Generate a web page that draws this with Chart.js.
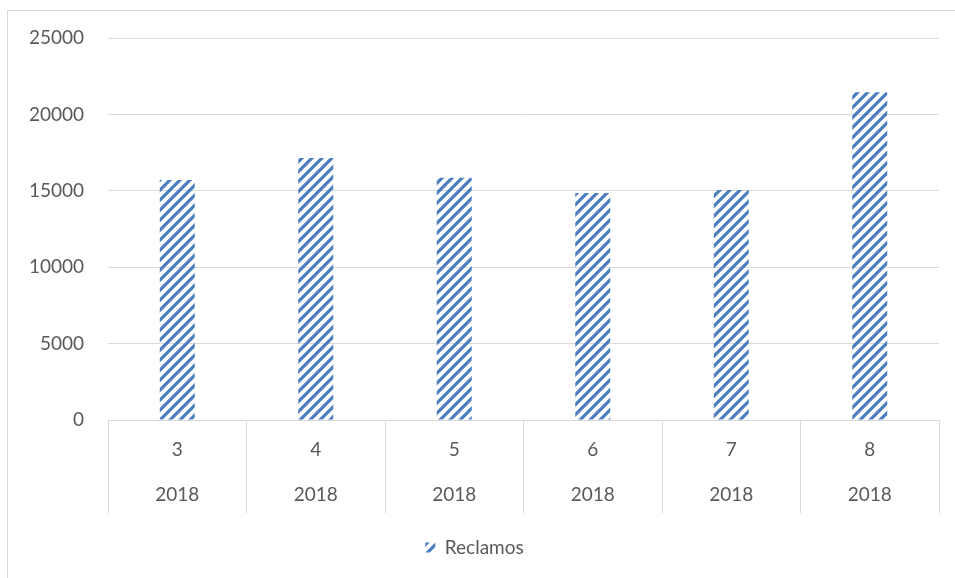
<!DOCTYPE html>
<html>
<head>
<meta charset="utf-8">
<script src="https://cdn.jsdelivr.net/npm/chart.js@4"></script>
<style>
  html, body { margin: 0; padding: 0; background: #fff; }
  #wrap { position: relative; width: 955px; height: 578px; overflow: hidden; }
  #marco { position: absolute; left: 7px; top: 10px; width: 980px; height: 600px; border: 1px solid #d9d9d9; box-sizing: border-box; }
  #grafico { position: absolute; left: 0; top: 0; }
</style>
</head>
<body>
<div id="wrap">
  <div id="marco"></div>
  <canvas id="grafico" width="955" height="578"></canvas>
</div>
<script>
// Datos del gráfico
var meses = ['3', '4', '5', '6', '7', '8'];
var anios = ['2018', '2018', '2018', '2018', '2018', '2018'];
var reclamos = [15700, 17150, 15850, 14850, 15050, 21450];
var etiquetaSerie = 'Reclamos';

// Patrón de rayas diagonales como en Excel
function crearRayas(color) {
    var c = document.createElement('canvas');
    c.width = 10;
    c.height = 10;
    var g = c.getContext('2d');
    g.strokeStyle = color;
    g.lineWidth = 3.2;
    g.lineCap = 'square';
    g.beginPath();
    g.moveTo(0, 10); g.lineTo(10, 0);
    g.moveTo(-5, 5); g.lineTo(5, -5);
    g.moveTo(5, 15); g.lineTo(15, 5);
    g.stroke();
    return g.createPattern(c, 'repeat');
}

var labels = [];
for (var i = 0; i < meses.length; i++) {
    labels.push([meses[i], anios[i]]);
}

var fuente = { family: 'Lato, "Open Sans", sans-serif', size: 19 };
var gris = '#595959';
var linea = '#d9d9d9';

var ctx = document.getElementById('grafico').getContext('2d');
var rayas = crearRayas('#4a7ebf');

new Chart(ctx, {
    type: 'bar',
    data: {
        labels: labels,
        datasets: [{
            label: etiquetaSerie,
            data: reclamos,
            backgroundColor: rayas,
            borderWidth: 0,
            barPercentage: 0.5,
            categoryPercentage: 0.505
        }]
    },
    options: {
        responsive: false,
        animation: false,
        layout: { padding: { left: 10, right: 16, top: 38, bottom: 11 } },
        plugins: {
            tooltip: { enabled: false },
            legend: {
                position: 'bottom',
                labels: {
                    color: gris,
                    font: fuente,
                    boxWidth: 10,
                    boxHeight: 10,
                    padding: 10
                }
            }
        },
        scales: {
            x: {
                grid: {
                    offset: true,
                    drawOnChartArea: false,
                    color: linea,
                    tickLength: 93
                },
                border: { color: linea },
                ticks: {
                    color: gris,
                    font: { family: fuente.family, size: 19, lineHeight: 2.37 },
                    padding: -85.5,
                    maxRotation: 0
                },
                afterFit: function (s) { s.height = 108; }
            },
            y: {
                min: 0,
                max: 25000,
                ticks: {
                    stepSize: 5000,
                    color: gris,
                    font: fuente,
                    padding: 24,
                    callback: function (v) { return String(v); }
                },
                grid: { color: linea, drawTicks: false },
                border: { display: false },
                afterFit: function (s) { s.width = 98; }
            }
        }
    }
});
</script>
</body>
</html>
